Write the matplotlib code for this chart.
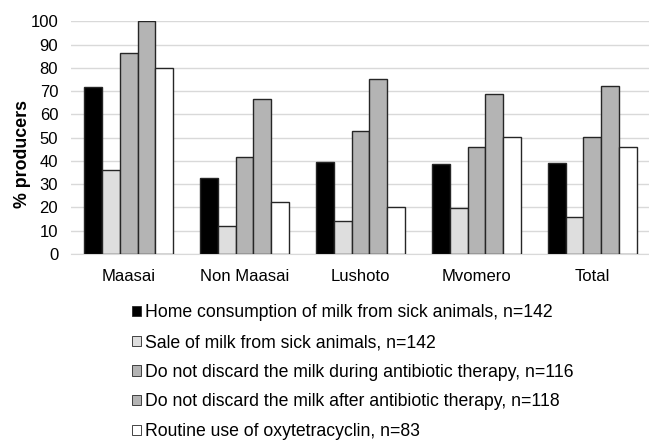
import numpy as np
import matplotlib.pyplot as plt

plt.rcParams['font.family'] = ['Liberation Sans', 'DejaVu Sans']

regions = ['Maasai', 'Non Maasai', 'Lushoto', 'Mvomero', 'Total']
series = ['Home consumption of milk from sick animals, n=142',
          'Sale of milk from sick animals, n=142',
          'Do not discard the milk during antibiotic therapy, n=116',
          'Do not discard the milk after antibiotic therapy, n=118',
          'Routine use of oxytetracyclin, n=83']
home_use = [71.8, 32.4, 39.4, 38.8, 39.1]
sale = [36.0, 11.9, 14.3, 19.5, 16.0]
during_ab = [86.5, 41.6, 52.7, 45.8, 50.1]
after_ab = [100.0, 66.7, 75.3, 68.9, 72.0]
oxytet = [80.0, 22.3, 20.3, 50.1, 46.1]

values = [home_use, sale, during_ab, after_ab, oxytet]
colors = ['#000000', '#dedede', '#b4b4b4', '#b4b4b4', '#ffffff']

fig = plt.figure(figsize=(6.49, 4.43), dpi=100)
ax = fig.add_axes([0.109, 0.427, 0.893, 0.525])

x = np.arange(len(regions))
w = 0.153
for i, (vals, c) in enumerate(zip(values, colors)):
    ax.bar(x + (i - 2) * w, vals, w, color=c, edgecolor='#262626',
           linewidth=1.0, label=series[i], zorder=3)

ax.set_xlim(-0.5, 4.5)
ax.set_ylim(0, 100)
ax.set_yticks(range(0, 101, 10))
ax.set_xticks(x)
ax.set_xticklabels(regions)
ax.grid(axis='y', color='#d9d9d9', linewidth=1.0, zorder=0)
for s in ['top', 'right', 'left']:
    ax.spines[s].set_visible(False)
ax.spines['bottom'].set_color('#d9d9d9')
ax.tick_params(axis='both', length=0, labelsize=12, colors='#000000')
ax.tick_params(axis='x', pad=11)
ax.tick_params(axis='y', pad=9)
ax.set_ylabel('% producers', fontsize=12.8, fontweight='bold')
ax.yaxis.set_label_coords(-0.068, 0.43)

leg = fig.legend(loc='upper left', bbox_to_anchor=(0.203, 0.313), frameon=False,
                 fontsize=12.7, handlelength=0.52, handleheight=0.52,
                 handletextpad=0.25, labelspacing=0.72, borderaxespad=0,
                 borderpad=0)
for h in leg.legend_handles:
    h.set_linewidth(0.6)

fig.savefig('out.png', dpi=100)
